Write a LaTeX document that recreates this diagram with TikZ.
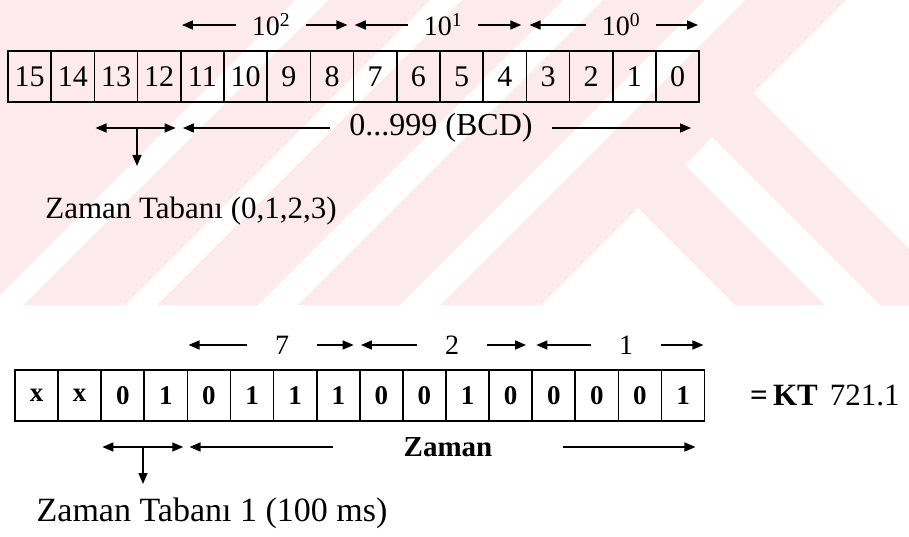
\documentclass[tikz,border=0pt]{standalone}
\usepackage{fontspec}
\setmainfont{Liberation Serif}
\usetikzlibrary{arrows.meta}
\definecolor{wmpink}{RGB}{253,234,238}
\newcommand{\fsz}[1]{\fontsize{#1}{#1}\selectfont}

\begin{document}
\begin{tikzpicture}[x=1pt,y=-1pt,
 cell/.style={draw,line width=1.7pt,minimum width=43.2pt,minimum height=51pt,inner sep=0pt,font=\fsz{30}},
 bcell/.style={cell,minimum width=43.1pt,font=\fsz{27}\bfseries},
 arr/.style={-{Triangle[length=11pt,width=9pt]},line width=1.5pt},
 darr/.style={{Triangle[length=11pt,width=9pt]}-{Triangle[length=11pt,width=9pt]},line width=1.5pt},
 grp/.style={inner sep=0pt,inner xsep=16pt,font=\fsz{28}},
 bgrp/.style={grp,inner xsep=28pt},
 txt/.style={inner sep=0pt}]
 \useasboundingbox (0,0) rectangle (909,537);
 % watermark
 \begin{scope}
  \clip (0,0) rectangle (909,305);
  \fill[wmpink] (0,0) rectangle (909,305);
  \foreach \a/\b in {295/328,430/462,563/603,705/745}
   \fill[white] (\a,0) -- (\b,0) -- (\b-305,305) -- (\a-305,305) -- cycle;
  \fill[white] (638,208) -- (735,305) -- (541,305) -- cycle;
  \fill[white] (712,137) -- (880,305) -- (825,305) -- (685,165) -- cycle;
  \fill[white] (753,93) -- (846,0) -- (909,0) -- (909,249) -- cycle;
 \end{scope}
 % upper word: bit numbers
 \foreach \b in {15,...,0}
  \node[cell] (t\b) at ({8+43.2*(15.5-\b)},76.5) {\b};
 \node[grp] (e2) at (271,25) {10\textsuperscript{2}};
 \node[grp] (e1) at (443,25) {10\textsuperscript{1}};
 \node[grp] (e0) at (621,25) {10\textsuperscript{0}};
 \draw[arr] (e2.west) -- ([xshift=2pt]t11.west |- e2);
 \draw[arr] (e2.east) -- ([xshift=-7pt]t8.east |- e2);
 \draw[arr] (e1.west) -- ([xshift=2pt]t7.west |- e1);
 \draw[arr] (e1.east) -- ([xshift=-6pt]t4.east |- e1);
 \draw[arr] (e0.west) -- ([xshift=4pt]t3.west |- e0);
 \draw[arr] (e0.east) -- ([xshift=-2pt]t0.east |- e0);
 \coordinate (tb) at (137,128);
 \coordinate (tbd) at (137,166);
 \draw[darr] ([xshift=2pt]t13.west |- tb) -- ([xshift=-6pt]t12.east |- tb);
 \draw[arr] (tb) -- (tbd);
 \node[txt,inner xsep=19pt,font=\fsz{32}] (rng) at (441,128) {0...999 (BCD)};
 \draw[arr] (rng.west) -- ([xshift=3pt]t11.west |- rng);
 \draw[arr] (rng.east) -- ([xshift=-9pt]t0.east |- rng);
 \node[txt,font=\fsz{31}] (tb1) at (191,211) {Zaman Tabanı (0,1,2,3)};
 % lower word: example value
 \foreach \v [count=\i from 0] in {x,x,0,1,0,1,1,1,0,0,1,0,0,0,0,1}{
  \pgfmathtruncatemacro\b{15-\i}
  \node[bcell] (b\b) at ({15+43.1*(\i+0.5)},395.5) {\v};
 }
 \node[bgrp] (f7) at (282,345) {7};
 \node[bgrp] (f2) at (452,345) {2};
 \node[bgrp] (f1) at (626,345) {1};
 \draw[arr] (f7.west) -- ([xshift=2pt]b11.west |- f7);
 \draw[arr] (f7.east) -- ([xshift=-7pt]b8.east |- f7);
 \draw[arr] (f2.west) -- ([xshift=2pt]b7.west |- f2);
 \draw[arr] (f2.east) -- ([xshift=-7pt]b4.east |- f2);
 \draw[arr] (f1.west) -- ([xshift=5pt]b3.west |- f1);
 \draw[arr] (f1.east) -- ([xshift=-2pt]b0.east |- f1);
 \coordinate (bb) at (143,447);
 \coordinate (bbd) at (143,484);
 \draw[darr] ([xshift=2pt]b13.west |- bb) -- ([xshift=-5pt]b12.east |- bb);
 \draw[arr] (bb) -- (bbd);
 \node[txt,inner xsep=70pt,font=\fsz{29}\bfseries] (zm) at (448,447) {Zaman};
 \draw[arr] (zm.west) -- ([xshift=3pt]b11.west |- zm);
 \draw[arr] (zm.east) -- ([xshift=-10pt]b0.east |- zm);
 \node[txt,anchor=west,font=\fsz{31}] (kt) at (750,395) {\textbf{=\,KT}\hspace{12pt}721.1};
 \node[txt,font=\fsz{34}] (tb2) at (212,513) {Zaman Tabanı 1 (100 ms)};
\end{tikzpicture}
\end{document}
